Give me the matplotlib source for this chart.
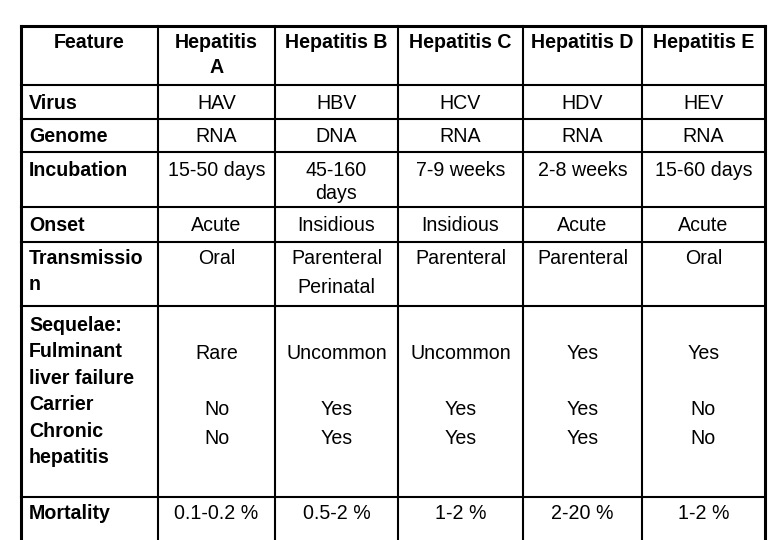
import matplotlib
matplotlib.use("Agg")
import matplotlib.pyplot as plt

# table contents
headers = ["Feature", "Hepatitis\nA", "Hepatitis B", "Hepatitis C", "Hepatitis D", "Hepatitis E"]
features = ["Virus", "Genome", "Incubation", "Onset", "Transmissio\nn",
            "Sequelae:\nFulminant\nliver failure\nCarrier\nChronic\nhepatitis", "Mortality"]
virus = ["HAV", "HBV", "HCV", "HDV", "HEV"]
genome = ["RNA", "DNA", "RNA", "RNA", "RNA"]
incubation = ["15-50 days", "45-160\ndays", "7-9 weeks", "2-8 weeks", "15-60 days"]
onset = ["Acute", "Insidious", "Insidious", "Acute", "Acute"]
transmission = ["Oral", "Parenteral\nPerinatal", "Parenteral", "Parenteral", "Oral"]
fulminant = ["Rare", "Uncommon", "Uncommon", "Yes", "Yes"]
carrier = ["No", "Yes", "Yes", "Yes", "No"]
chronic = ["No", "Yes", "Yes", "Yes", "No"]
mortality = ["0.1-0.2 %", "0.5-2 %", "1-2 %", "2-20 %", "1-2 %"]

# layout in pixels (y grows downward)
col_edges = [21, 158, 275, 398, 523, 642, 765]
row_edges = [26, 85, 119, 152, 207, 242, 306, 497]
FS = 14.1
FONT = "Liberation Sans"

fig = plt.figure(figsize=(7.8, 5.4), dpi=100)
ax = fig.add_axes([0, 0, 1, 1])
ax.set_xlim(0, 780)
ax.set_ylim(540, 0)
ax.axis("off")

# grid lines, outer frame a bit heavier
for i, x in enumerate(col_edges):
    lw = 2.2 if i in (0, len(col_edges) - 1) else 1.5
    ax.plot([x, x], [row_edges[0], 545], color="black", lw=lw, solid_capstyle="projecting")
for i, y in enumerate(row_edges):
    lw = 2.2 if i == 0 else 1.5
    ax.plot([col_edges[0], col_edges[-1]], [y, y], color="black", lw=lw, solid_capstyle="projecting")


def put(x, y, text, spacing, ha="center", bold=False):
    for k, line in enumerate(text.split("\n")):
        ax.text(x, y + k * spacing, line, ha=ha, va="baseline", fontsize=FS,
                family=FONT, fontweight="bold" if bold else "normal")


centers = [(a + b) / 2 for a, b in zip(col_edges[:-1], col_edges[1:])]
left_x = col_edges[0] + 8

# header row
for cx, h in zip(centers, headers):
    put(cx, 48, h, 25, bold=True)

# feature labels: baseline of first line and line spacing
label_pos = [(109, 25), (142, 25), (176, 23), (231, 25), (264, 26), (331, 26.4), (519, 25)]
for (y, sp), f in zip(label_pos, features):
    put(left_x, y, f, sp, ha="left", bold=True)

rows = [(virus, 109, 25), (genome, 142, 25), (incubation, 176, 23), (onset, 231, 25),
        (transmission, 264, 29), (fulminant, 359, 25), (carrier, 415, 25),
        (chronic, 444, 25), (mortality, 519, 25)]
for values, y, sp in rows:
    for cx, v in zip(centers[1:], values):
        put(cx, y, v, sp)

fig.savefig("out.png", dpi=100, facecolor="white")
